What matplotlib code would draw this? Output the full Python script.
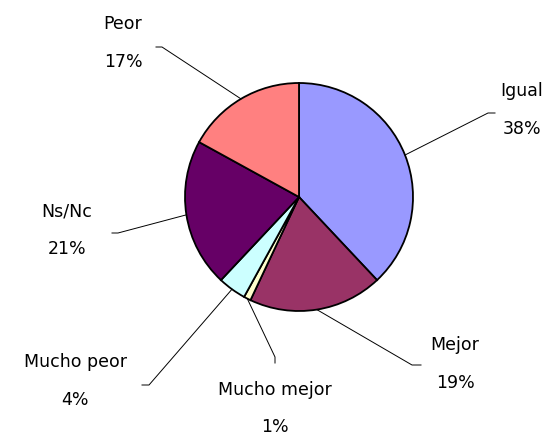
import numpy as np
import matplotlib.pyplot as plt

labels = ['Igual', 'Mejor', 'Mucho mejor', 'Mucho peor', 'Ns/Nc', 'Peor']
values = [38, 19, 1, 4, 21, 17]
colors = ['#9999FF', '#993366', '#FFFFCC', '#CCFFFF', '#660066', '#FF8080']

# label layout in pixel space (x, y from top): label centre, percent centre y,
# leader end and elbow offset
text_pos = [(522, 91), (455, 345), (275, 390), (75, 362), (67, 212), (123, 24)]
pct_y = [129, 383, 427, 400, 249, 62]
line_end = [(495, 113), (421, 365), (275, 363), (142, 385), (112, 233), (156, 47)]
elbow = [(-7, 0), (-9, 0), (0, -6), (7, 0), (6, 0), (6, 0)]

W, H = 548, 438
cx, cy, r = 299, 197, 114

fig = plt.figure(figsize=(W / 100, H / 100), dpi=100)
ax = fig.add_axes([0, 0, 1, 1])

wedges, _ = ax.pie(values, colors=colors, startangle=90, counterclock=False,
                   center=(cx, H - cy), radius=r,
                   wedgeprops=dict(edgecolor='black', linewidth=1.3))
ax.set_xlim(0, W)
ax.set_ylim(0, H)
ax.set_aspect('equal')
ax.axis('off')

for w, lab, val, tp, py, le, el in zip(wedges, labels, values, text_pos, pct_y, line_end, elbow):
    ang = np.deg2rad((w.theta1 + w.theta2) / 2)
    ax0 = cx + r * np.cos(ang)
    ay0 = (H - cy) + r * np.sin(ang)
    ex, ey = le[0], H - le[1]
    kx, ky = ex + el[0], ey - el[1]
    ax.plot([ax0, kx, ex], [ay0, ky, ey], color='black', lw=0.7)
    ax.text(tp[0], H - tp[1], lab, ha='center', va='center', fontsize=12.5)
    ax.text(tp[0], H - py, '%d%%' % val, ha='center', va='center', fontsize=12.5)

fig.savefig('out.png', dpi=100)
